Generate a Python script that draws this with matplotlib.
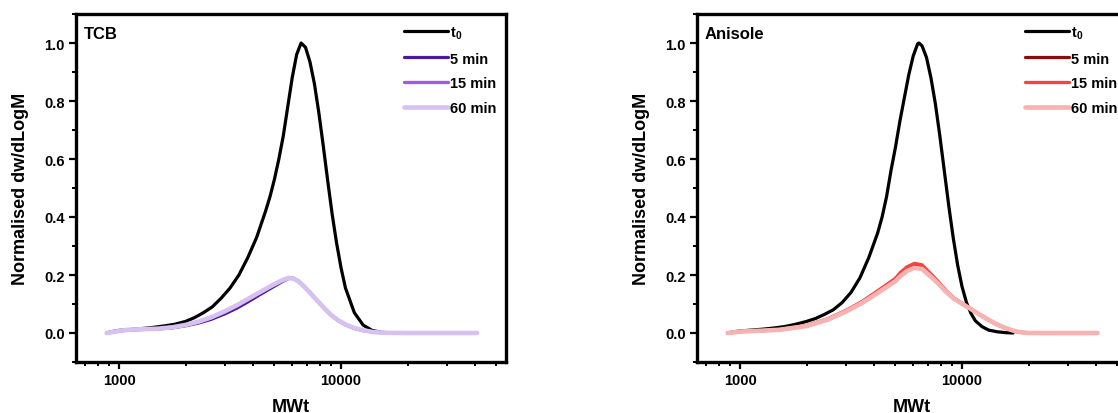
import matplotlib
matplotlib.use("Agg")
import matplotlib.pyplot as plt
from matplotlib.ticker import LogLocator, FixedLocator, NullFormatter, MultipleLocator

plt.rcParams['font.family'] = ['Liberation Sans', 'DejaVu Sans']
plt.rcParams['font.weight'] = 'bold'
plt.rcParams['mathtext.fontset'] = 'custom'
plt.rcParams['mathtext.rm'] = 'Liberation Sans:bold'
plt.rcParams['mathtext.bf'] = 'Liberation Sans:bold'
plt.rcParams['mathtext.it'] = 'Liberation Sans:bold'

# ---------------- data ----------------
series_labels = ["$\\mathbf{t_0}$", "5 min", "15 min", "60 min"]

# TCB, t0
tcb_t0_mw = [880, 933, 1000, 1122, 1259, 1413, 1585, 1778, 1995, 2188, 2399, 2630,
             2884, 3162, 3467, 3802, 4169, 4571, 4786, 5012, 5248, 5495, 5754,
             6026, 6310, 6607, 6918, 7244, 7586, 7943, 8318, 8710, 9120, 9550,
             10000, 10471, 11482, 12589, 13804, 15136, 16596, 20000]
tcb_t0_val = [0.0, 0.005, 0.009, 0.012, 0.015, 0.019, 0.024, 0.03, 0.04, 0.053, 0.07, 0.09,
              0.12, 0.155, 0.2, 0.26, 0.33, 0.42, 0.47, 0.53, 0.60, 0.68, 0.78,
              0.88, 0.96, 1.0, 0.985, 0.935, 0.86, 0.76, 0.645, 0.525, 0.41, 0.31,
              0.225, 0.155, 0.07, 0.027, 0.009, 0.0025, 0.0005, 0.0]

# TCB, after treatment
tcb_mw = [880, 950, 1000, 1100, 1250, 1500, 1750, 2000, 2300, 2600, 3000, 3400,
          3800, 4200, 4600, 5000, 5400, 5800, 6100, 6400, 6800, 7300, 7800, 8400,
          9000, 9700, 10500, 11500, 12700, 14000, 16000, 20000, 30000, 41000]
tcb_5_val = [0.0, 0.004, 0.007, 0.01, 0.012, 0.014, 0.018, 0.025, 0.035, 0.047, 0.066, 0.086,
             0.107, 0.127, 0.145, 0.161, 0.176, 0.188, 0.188, 0.18, 0.162, 0.137, 0.112, 0.085,
             0.062, 0.043, 0.028, 0.016, 0.008, 0.003, 0.0005, 0.0, 0.0, 0.0]
tcb_15_val = [0.0, 0.004, 0.007, 0.011, 0.013, 0.015, 0.02, 0.028, 0.04, 0.053, 0.074, 0.095,
              0.116, 0.135, 0.152, 0.167, 0.18, 0.19, 0.189, 0.18, 0.162, 0.137, 0.112, 0.085,
              0.062, 0.043, 0.028, 0.016, 0.008, 0.003, 0.0005, 0.0, 0.0, 0.0]
tcb_60_val = [0.0, 0.004, 0.007, 0.011, 0.013, 0.015, 0.02, 0.028, 0.04, 0.054, 0.075, 0.096,
              0.117, 0.136, 0.153, 0.168, 0.181, 0.19, 0.188, 0.179, 0.161, 0.136, 0.112, 0.086,
              0.063, 0.044, 0.029, 0.017, 0.009, 0.003, 0.0005, 0.0, 0.0, 0.0]

# Anisole, t0
ani_t0_mw = [880, 933, 1000, 1122, 1259, 1413, 1585, 1778, 1995, 2188, 2399, 2630,
             2884, 3162, 3467, 3802, 4169, 4365, 4571, 4786, 5012, 5248, 5495,
             5754, 6026, 6310, 6397, 6607, 6918, 7244, 7586, 7943, 8318, 8710,
             9120, 9550, 10000, 10471, 10965, 11482, 12303, 13183, 14454, 15849,
             16982]
ani_t0_val = [0.0, 0.004, 0.007, 0.01, 0.013, 0.017, 0.022, 0.03, 0.04, 0.05, 0.064, 0.08,
              0.105, 0.14, 0.19, 0.26, 0.345, 0.40, 0.47, 0.56, 0.64, 0.73, 0.81,
              0.89, 0.955, 0.997, 1.0, 0.99, 0.95, 0.88, 0.79, 0.68, 0.56, 0.44,
              0.33, 0.235, 0.16, 0.105, 0.068, 0.042, 0.022, 0.01, 0.004, 0.001,
              0.0]

# Anisole, after treatment
ani_mw = [880, 950, 1000, 1250, 1500, 2000, 2500, 3000, 3500, 4000, 4500, 5000,
          5300, 5650, 6100, 6600, 7100, 7800, 8500, 9200, 10100, 11000, 11900,
          13000, 14200, 15500, 16900, 17900, 20000, 30000, 40700]
ani_5_val = [0.0, 0.003, 0.005, 0.008, 0.011, 0.025, 0.048, 0.076, 0.104, 0.133, 0.16, 0.185,
             0.205, 0.224, 0.236, 0.231, 0.208, 0.176, 0.144, 0.12, 0.1, 0.082, 0.065,
             0.047, 0.031, 0.018, 0.008, 0.003, 0.0, 0.0, 0.0]
ani_15_val = [0.0, 0.003, 0.005, 0.008, 0.012, 0.026, 0.05, 0.078, 0.106, 0.136, 0.163, 0.188,
              0.21, 0.228, 0.24, 0.235, 0.21, 0.178, 0.145, 0.12, 0.1, 0.082, 0.065,
              0.047, 0.031, 0.018, 0.008, 0.003, 0.0, 0.0, 0.0]
ani_60_val = [0.0, 0.003, 0.005, 0.008, 0.011, 0.024, 0.047, 0.074, 0.101, 0.129, 0.155, 0.178,
              0.197, 0.214, 0.225, 0.221, 0.2, 0.171, 0.141, 0.118, 0.099, 0.082, 0.065,
              0.048, 0.032, 0.019, 0.009, 0.004, 0.0, 0.0, 0.0]

panel_titles = ["TCB", "Anisole"]
x_ticks = [1000, 10000]
x_tick_labels = ["1000", "10000"]
y_ticks = [0.0, 0.2, 0.4, 0.6, 0.8, 1.0]

tcb_colors = ["#000000", "#4b1a9a", "#9b5ee0", "#d6c1f1"]
ani_colors = ["#000000", "#8b0a0a", "#f24444", "#f7b2b2"]
line_widths = [2.3, 2.3, 2.4, 3.3]

# ---------------- figure ----------------
W, H = 1118, 414
fig = plt.figure(figsize=(W / 100, H / 100), dpi=100)

ax_w = 430 / W
ax_h = 348 / H
ax_b = (H - 363) / H
axes = [fig.add_axes([76 / W, ax_b, ax_w, ax_h]),
        fig.add_axes([697 / W, ax_b, ax_w, ax_h])]

panels = [
    (tcb_t0_mw, tcb_t0_val, tcb_mw, [tcb_5_val, tcb_15_val, tcb_60_val], tcb_colors),
    (ani_t0_mw, ani_t0_val, ani_mw, [ani_5_val, ani_15_val, ani_60_val], ani_colors),
]

for ax, title, (t0x, t0y, mx, vals, cols) in zip(axes, panel_titles, panels):
    ax.plot(t0x, t0y, color=cols[0], lw=line_widths[0], label=series_labels[0],
            solid_capstyle='round', solid_joinstyle='round')
    for v, c, lab, lw in zip(vals, cols[1:], series_labels[1:], line_widths[1:]):
        ax.plot(mx, v, color=c, lw=lw, label=lab, solid_capstyle='round',
                solid_joinstyle='round')
    ax.set_xscale('log')
    ax.set_xlim(640, 55350)
    ax.set_ylim(-0.1, 1.1)
    ax.xaxis.set_major_locator(FixedLocator(x_ticks))
    ax.set_xticklabels(x_tick_labels)
    ax.xaxis.set_minor_locator(LogLocator(base=10, subs=range(2, 10)))
    ax.xaxis.set_minor_formatter(NullFormatter())
    ax.set_yticks(y_ticks)
    ax.set_yticklabels([f"{t:.1f}" for t in y_ticks])
    ax.yaxis.set_minor_locator(MultipleLocator(0.1))
    ax.tick_params(which='major', direction='out', length=5, width=1.6,
                   labelsize=10.5, top=False, right=False, pad=3)
    ax.tick_params(which='minor', direction='out', length=3, width=1.4,
                   top=False, right=False)
    for lab in ax.get_xticklabels() + ax.get_yticklabels():
        lab.set_fontweight('bold')
    for s in ax.spines.values():
        s.set_linewidth(2.4)
    ax.set_xlabel("MWt", fontsize=13, fontweight='bold', labelpad=8)
    ax.set_ylabel("Normalised dw/dLogM", fontsize=13, fontweight='bold', labelpad=11)
    ax.text(0.018, 0.965, title, transform=ax.transAxes, fontsize=12,
            fontweight='bold', va='top', ha='left')
    ax.legend(loc='upper left', bbox_to_anchor=(0.74, 1.0), frameon=False,
              prop={'weight': 'bold', 'size': 10.5}, handlelength=3.0,
              handletextpad=0.1, labelspacing=0.75, borderaxespad=0.3)

fig.savefig("out.png", dpi=100)
